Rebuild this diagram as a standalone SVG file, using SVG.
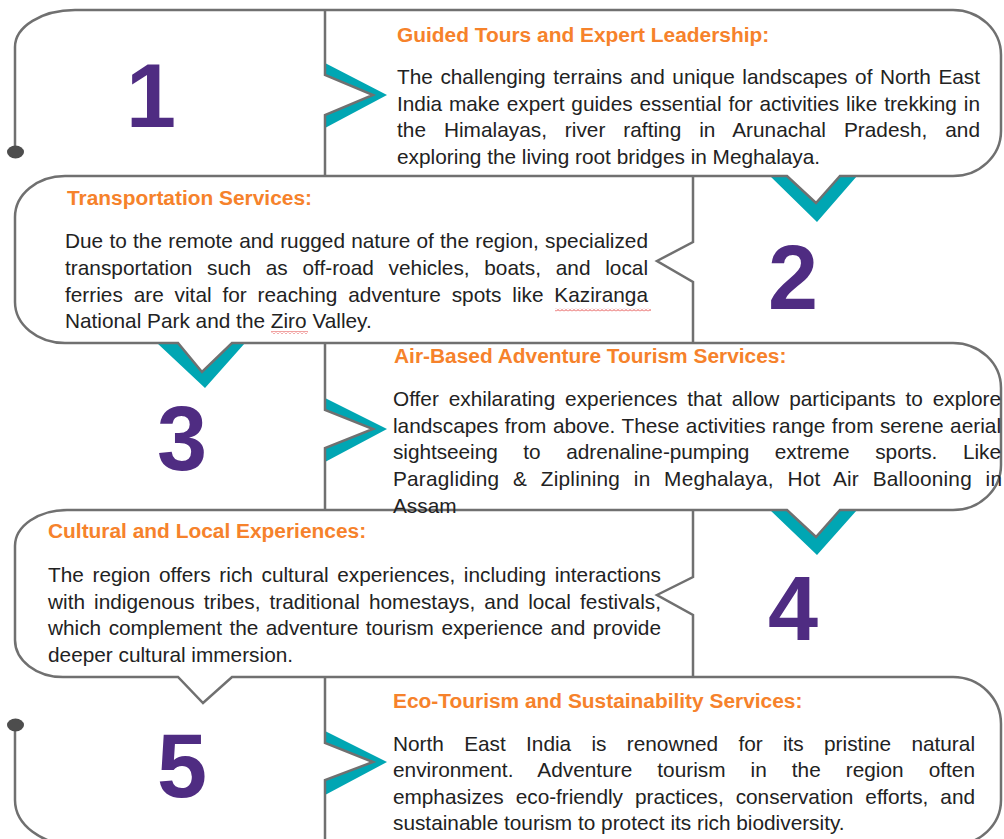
<svg xmlns="http://www.w3.org/2000/svg" width="1004" height="839" viewBox="0 0 1004 839">
<defs>
<style>
.ln{fill:none;stroke:#707070;stroke-width:2.5;stroke-linejoin:miter}
.tl{fill:#00A6B3}
.num{font-family:"Liberation Sans",Arial,sans-serif;font-weight:bold;font-size:90px;fill:#4F2C82;text-anchor:middle}
.ttl{font-family:"Liberation Sans",Arial,sans-serif;font-weight:bold;font-size:20.9px;fill:#F6822B}
.bd{font-family:"Liberation Sans",Arial,sans-serif;font-size:20.8px;fill:#222}
</style>
<pattern id="squig" x="0" y="0" width="4" height="3" patternUnits="userSpaceOnUse">
<polyline points="0,2.5 2,0.5 4,2.5" fill="none" stroke="#E0302F" stroke-width="0.9"/>
</pattern>
</defs>
<rect width="1004" height="839" fill="#fff"/>
<g id="connectors">
<path class="tl" d="M325,63 L387,95 L325,128 L325,115 L373,95 L325,75 Z"/>
<path class="tl" d="M770,176 L817,222 L857,176 L840,176 L816,203 L787,176 Z"/>
<path class="tl" d="M157,343 L205,388 L245,343 L232,343 L202,372 L178,343 Z"/>
<path class="tl" d="M325,398 L387,429 L325,462 L325,448 L373,429 L325,410 Z"/>
<path class="tl" d="M770,510 L817,555 L857,510 L840,510 L816,537 L787,510 Z"/>
<path class="tl" d="M325,731 L387,762 L325,795 L325,780 L373,762 L325,743 Z"/>
</g>
<g id="frame">
<path class="ln" d="M15,152 V47 A60,37 0 0 1 75,10 H953 A48,45 0 0 1 1001,55 V131 A48,45 0 0 1 953,176 H840 L816,203 L787,176 H65 A50,41 0 0 0 15,217 V302 A50,41 0 0 0 65,343 H178 L202,372 L232,343 H953 A48,45 0 0 1 1001,388 V465 A48,45 0 0 1 953,510 H840 L816,537 L787,510 H67 A52,36 0 0 0 15,546 V640 A48,37 0 0 0 63,677 H178 L203,703 L232,677 H953 A48,47 0 0 1 1001,724 V800 A48,45 0 0 1 953,845 H75 A60,45 0 0 1 15,800 V725"/>
<path class="ln" d="M325,10 V75 L373,95 L325,115 V176"/>
<path class="ln" d="M693,176 V242 L657,261 L693,282 V343"/>
<path class="ln" d="M325,343 V410 L373,429 L325,448 V510"/>
<path class="ln" d="M693,510 V577 L657,595 L693,615 V677"/>
<path class="ln" d="M325,677 V743 L373,762 L325,780 V839"/>
<ellipse cx="15.5" cy="152" rx="8.5" ry="6.5" fill="#4D4D4D"/>
<ellipse cx="15.5" cy="725" rx="8.5" ry="6.5" fill="#4D4D4D"/>
</g>
<g id="step-1">
<text class="num" x="151" y="127">1</text>
<text class="ttl" x="397" y="42">Guided Tours and Expert Leadership:</text>
<text class="bd" x="397" y="84" word-spacing="1.8" textLength="583" lengthAdjust="spacing">The challenging terrains and unique landscapes of North East</text>
<text class="bd" x="397" y="110.5" word-spacing="1.1" textLength="583" lengthAdjust="spacing">India make expert guides essential for activities like trekking in</text>
<text class="bd" x="397" y="137" word-spacing="12.1" textLength="583" lengthAdjust="spacing">the Himalayas, river rafting in Arunachal Pradesh, and</text>
<text class="bd" x="397" y="163.5">exploring the living root bridges in Meghalaya.</text>
</g>
<g id="step-2">
<text class="num" x="793" y="309">2</text>
<text class="ttl" x="67" y="205">Transportation Services:</text>
<text class="bd" x="65" y="248" word-spacing="0.5" textLength="583" lengthAdjust="spacing">Due to the remote and rugged nature of the region, specialized</text>
<text class="bd" x="65" y="275" word-spacing="8.9" textLength="583" lengthAdjust="spacing">transportation such as off-road vehicles, boats, and local</text>
<text class="bd" x="65" y="302" word-spacing="5.1" textLength="583" lengthAdjust="spacing">ferries are vital for reaching adventure spots like Kaziranga</text>
<text class="bd" x="65" y="328">National Park and the Ziro Valley.</text>
<rect x="555" y="308.5" width="96" height="3" fill="url(#squig)"/>
<rect x="271" y="331" width="37" height="3" fill="url(#squig)"/>
</g>
<g id="step-3">
<text class="num" x="182" y="470">3</text>
<text class="ttl" x="394" y="363">Air-Based Adventure Tourism Services:</text>
<text class="bd" x="393" y="406" word-spacing="4.1" textLength="608" lengthAdjust="spacing">Offer exhilarating experiences that allow participants to explore</text>
<text class="bd" x="393" y="432.5" word-spacing="0.7" textLength="608" lengthAdjust="spacing">landscapes from above. These activities range from serene aerial</text>
<text class="bd" x="393" y="459" word-spacing="19.9" textLength="608" lengthAdjust="spacing">sightseeing to adrenaline-pumping extreme sports. Like</text>
<text class="bd" x="393" y="486" word-spacing="7.7" textLength="609" lengthAdjust="spacing">Paragliding &amp; Ziplining in Meghalaya, Hot Air Ballooning in</text>
<text class="bd" x="393" y="512.5">Assam</text>
</g>
<g id="step-4">
<text class="num" x="793" y="640">4</text>
<text class="ttl" x="48" y="538">Cultural and Local Experiences:</text>
<text class="bd" x="48" y="582" word-spacing="2.9" textLength="613" lengthAdjust="spacing">The region offers rich cultural experiences, including interactions</text>
<text class="bd" x="48" y="608.5" word-spacing="3.3" textLength="613" lengthAdjust="spacing">with indigenous tribes, traditional homestays, and local festivals,</text>
<text class="bd" x="48" y="635" word-spacing="1.7" textLength="613" lengthAdjust="spacing">which complement the adventure tourism experience and provide</text>
<text class="bd" x="48" y="662">deeper cultural immersion.</text>
</g>
<g id="step-5">
<text class="num" x="182" y="797">5</text>
<text class="ttl" x="393" y="708">Eco-Tourism and Sustainability Services:</text>
<text class="bd" x="393" y="751" word-spacing="14.5" textLength="582" lengthAdjust="spacing">North East India is renowned for its pristine natural</text>
<text class="bd" x="393" y="777" word-spacing="19.2" textLength="582" lengthAdjust="spacing">environment. Adventure tourism in the region often</text>
<text class="bd" x="393" y="804" word-spacing="6.3" textLength="582" lengthAdjust="spacing">emphasizes eco-friendly practices, conservation efforts, and</text>
<text class="bd" x="393" y="830">sustainable tourism to protect its rich biodiversity.</text>
</g>
</svg>
